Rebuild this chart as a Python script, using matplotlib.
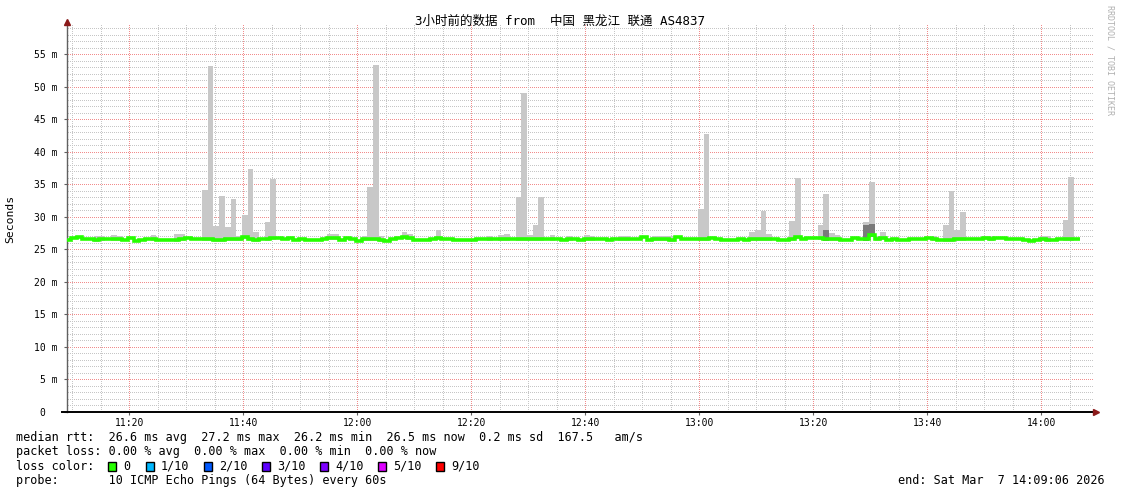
import matplotlib
matplotlib.use("Agg")
import matplotlib.pyplot as plt
from matplotlib.patches import Rectangle
import numpy as np

W, H = 1121, 494
DPI = 100

# time axis in minutes after 11:00, window 11:09:06 .. 14:09:06
t_start = 9.1
t_end = 189.1
first_step = 8.8   # left edge of the first 60s step

# median rtt per step (ms)
median_rtt = [
    26.4, 26.7, 26.9, 26.6, 26.55, 26.4, 26.65, 26.65, 26.55, 26.55,
    26.5, 26.8, 26.35, 26.45, 26.55, 26.65, 26.4, 26.4, 26.5, 26.5,
    26.55, 26.75, 26.65, 26.55, 26.65, 26.55, 26.45, 26.5, 26.55, 26.55,
    26.65, 26.85, 26.65, 26.45, 26.55, 26.65, 26.8, 26.7, 26.55, 26.75,
    26.5, 26.55, 26.4, 26.5, 26.5, 26.55, 26.75, 26.7, 26.45, 26.75,
    26.55, 26.35, 26.55, 26.65, 26.65, 26.45, 26.35, 26.55, 26.8, 26.95,
    26.8, 26.5, 26.5, 26.5, 26.65, 26.75, 26.55, 26.55, 26.4, 26.4,
    26.5, 26.5, 26.65, 26.55, 26.55, 26.65, 26.65, 26.65, 26.6, 26.6,
    26.6, 26.6, 26.65, 26.65, 26.65, 26.55, 26.55, 26.5, 26.6, 26.6,
    26.5, 26.55, 26.55, 26.55, 26.55, 26.45, 26.55, 26.55, 26.55, 26.55,
    26.65, 26.85, 26.45, 26.55, 26.55, 26.65, 26.45, 26.85, 26.55, 26.55,
    26.55, 26.65, 26.6, 26.75, 26.65, 26.4, 26.4, 26.5, 26.55, 26.45,
    26.65, 26.65, 26.65, 26.55, 26.55, 26.45, 26.45, 26.65, 26.85, 26.65,
    26.75, 26.75, 26.75, 26.55, 26.65, 26.65, 26.4, 26.4, 26.8, 26.55,
    26.65, 27.15, 26.55, 26.75, 26.45, 26.65, 26.45, 26.45, 26.55, 26.55,
    26.55, 26.7, 26.55, 26.45, 26.45, 26.5, 26.55, 26.55, 26.55, 26.55,
    26.55, 26.8, 26.6, 26.8, 26.8, 26.65, 26.55, 26.65, 26.45, 26.35,
    26.4, 26.6, 26.5, 26.45, 26.55, 26.55, 26.55, 26.55,
]

# highest ping of the step (light smoke), only where it sticks out
spike_idx = [5, 6, 8, 9, 15, 19, 20, 24, 25, 26, 27, 28, 29, 30, 31, 32, 33, 35, 36,
             46, 47, 52, 53, 54, 55, 59, 60, 65, 74, 76, 77, 79, 80, 81, 82, 83, 85, 88,
             91, 92, 97, 98, 103, 104, 105, 106, 111, 112, 120, 121, 122, 123,
             127, 128, 132, 133, 134, 135, 140, 141, 142, 143, 152, 154, 155, 156, 157,
             161, 162, 171, 172, 175, 176]
spike_top = [27.0, 27.0, 27.2, 27.1, 27.2, 27.3, 27.3, 34.2, 53.2, 28.6, 33.2, 28.5, 32.8, 27.0, 30.3, 37.4, 27.7, 29.2, 35.8,
             27.3, 27.3, 27.0, 34.6, 53.4, 27.0, 27.6, 27.3, 28.0, 27.1, 27.2, 27.4, 33.0, 49.0, 27.2, 28.7, 33.0, 27.2, 27.1,
             27.2, 27.0, 27.1, 27.1, 27.1, 27.1, 27.1, 27.0, 31.2, 42.8, 27.6, 28.0, 30.9, 27.4,
             29.3, 36.0, 28.8, 33.5, 27.5, 27.2, 29.2, 35.4, 27.0, 27.6, 27.0, 28.8, 34.0, 28.0, 30.7,
             27.0, 27.0, 27.0, 27.1, 29.5, 36.1]

# second highest ping cluster (darker smoke)
dark_idx = [133, 140, 141]
dark_top = [28.0, 28.7, 28.9]

x_ticks = [20, 40, 60, 80, 100, 120, 140, 160, 180]
x_labels = ['11:20', '11:40', '12:00', '12:20', '12:40', '13:00', '13:20', '13:40', '14:00']
y_ticks = [0, 5, 10, 15, 20, 25, 30, 35, 40, 45, 50, 55]
y_labels = ['0  ', '5 m', '10 m', '15 m', '20 m', '25 m', '30 m', '35 m', '40 m', '45 m', '50 m', '55 m']

loss_labels = ['0', '1/10', '2/10', '3/10', '4/10', '5/10', '9/10']
loss_colors = ['#26ff00', '#00b8ff', '#0059ff', '#5e00ff', '#7e00ff', '#dd00ff', '#ff0000']

title = '3小时前的数据 from  中国 黑龙江 联通 AS4837'
rtt_line = 'median rtt:  26.6 ms avg  27.2 ms max  26.2 ms min  26.5 ms now  0.2 ms sd  167.5   am/s'
loss_line = 'packet loss: 0.00 % avg  0.00 % max  0.00 % min  0.00 % now'
probe_line = 'probe:       10 ICMP Echo Pings (64 Bytes) every 60s'
end_line = 'end: Sat Mar  7 14:09:06 2026'

mono = 'DejaVu Sans Mono'


def fx(px):
    return px / W


def fy(py):
    return 1 - py / H


def dotted_grid(ax):
    # rrdtool style pixel grid: 1px dots, 1px gaps
    img = np.zeros((H, W, 4))
    minor = (0.78, 0.78, 0.78, 1.0)
    major = (0.95, 0.55, 0.55, 1.0)
    (x0, y0), (x1, y1) = ax.transData.transform([(t_start, 0), (t_end, 59.5)])
    c0, c1 = int(round(x0)) + 1, int(round(x1))
    r_top = H - int(round(y1))
    r_bot = H - int(round(y0))
    for y in range(1, 60):
        r = H - int(round(ax.transData.transform((t_start, y))[1]))
        img[r, c0:c1:2] = major if y % 5 == 0 else minor
    for x in np.arange(10, 190, 5):
        c = int(round(ax.transData.transform((x, 0))[0]))
        img[r_top:r_bot:2, c] = major if x % 20 == 0 else minor
    return img


def main():
    fig = plt.figure(figsize=(W / DPI, H / DPI), dpi=DPI)
    fig.patch.set_facecolor('white')
    ax = fig.add_axes([fx(67), fy(412), (1093 - 67) / W, (412 - 25) / H])
    ax.set_facecolor('none')

    ax.set_xlim(t_start, t_end)
    ax.set_ylim(0, 59.5)

    fig.figimage(dotted_grid(ax), xo=0, yo=0, origin='upper', zorder=-1)

    med = np.array(median_rtt)
    edges = first_step + np.arange(len(med) + 1)
    left = edges[:-1]

    si = np.array(spike_idx)
    st = np.array(spike_top)
    ax.bar(left[si], st - med[si] + 0.3, bottom=med[si] - 0.3, width=1.0, align='edge',
           color='#c8c8c8', lw=0, zorder=2)
    di = np.array(dark_idx)
    dt = np.array(dark_top)
    ax.bar(left[di], dt - med[di] + 0.3, bottom=med[di] - 0.3, width=1.0, align='edge',
           color='#7a7a7a', lw=0, zorder=2.2)

    ax.stairs(med, edges, baseline=None, color='#26ff00', lw=2.6, zorder=3)

    # axes look
    for s in ['top', 'right']:
        ax.spines[s].set_visible(False)
    ax.spines['left'].set_color('#606060')
    ax.spines['left'].set_linewidth(1.0)
    ax.spines['left'].set_bounds(0, 60.2)
    ax.spines['bottom'].set_color('black')
    ax.spines['bottom'].set_linewidth(1.4)
    ax.spines['bottom'].set_bounds(t_start - 0.9, t_end + 0.4)
    ax.plot([0], [1.008], marker='^', ms=4.5, color='#8b1a1a', transform=ax.transAxes, clip_on=False, zorder=5)
    ax.plot([1.003], [0], marker='>', ms=4.5, color='#8b1a1a', transform=ax.transAxes, clip_on=False, zorder=5)

    ax.set_xticks(x_ticks)
    ax.set_xticklabels(x_labels, fontfamily=mono, fontsize=7)
    ax.set_yticks(y_ticks)
    ax.set_yticklabels(y_labels, fontfamily=mono, fontsize=7)
    ax.tick_params(axis='x', length=2.5, width=0.8, color='#606060', pad=2)
    ax.tick_params(axis='y', length=2.5, width=0.8, color='#606060', pad=4)

    fig.text(fx(560), fy(21), title, ha='center', va='center', fontsize=9,
             family=[mono, 'Noto Sans CJK SC'])
    fig.text(fx(10), fy(219), 'Seconds', rotation=90, ha='center', va='center',
             fontsize=8.2, family=mono)
    fig.text(fx(1110), fy(60), 'RRDTOOL / TOBI OETIKER', rotation=270, ha='center', va='center',
             fontsize=6, family=mono, color='#b0b0b0')

    fs = 8.5
    fig.text(fx(16), fy(437), rtt_line, ha='left', va='center', fontsize=fs, family=mono)
    fig.text(fx(16), fy(451), loss_line, ha='left', va='center', fontsize=fs, family=mono)
    fig.text(fx(16), fy(466), 'loss color:', ha='left', va='center', fontsize=fs, family=mono)
    sq_x = 108
    for lab, col in zip(loss_labels, loss_colors):
        fig.add_artist(Rectangle((fx(sq_x), fy(470.5)), 8 / W, 9 / H, transform=fig.transFigure,
                                 facecolor=col, edgecolor='black', lw=1))
        fig.text(fx(sq_x + 15), fy(466), lab, ha='left', va='center', fontsize=fs, family=mono)
        sq_x += 38 if lab == '0' else 58
    fig.text(fx(16), fy(480), probe_line, ha='left', va='center', fontsize=fs, family=mono)
    fig.text(fx(1105), fy(480), end_line, ha='right', va='center', fontsize=fs, family=mono)

    fig.savefig('out.png', dpi=DPI)


if __name__ == "__main__":
    main()
